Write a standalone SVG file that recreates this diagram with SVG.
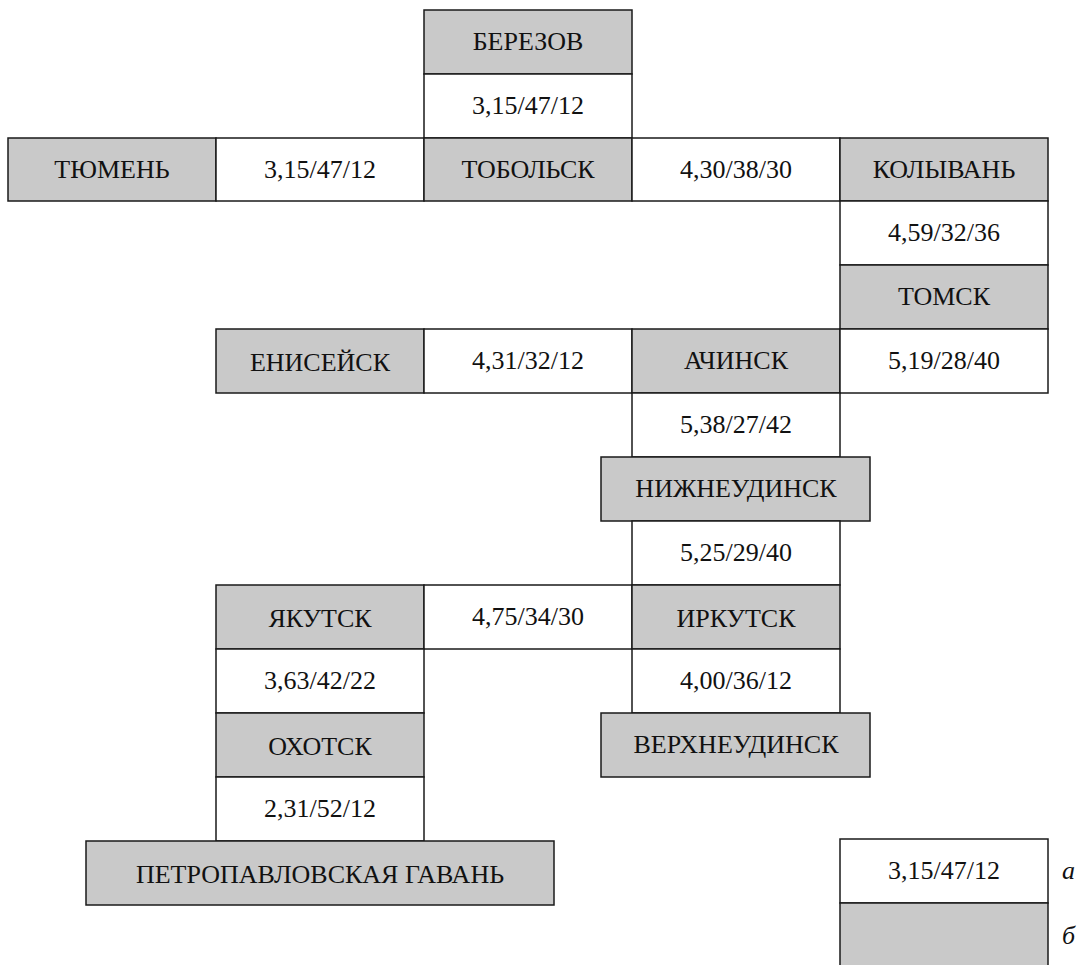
<svg xmlns="http://www.w3.org/2000/svg" width="1079" height="965" viewBox="0 0 1079 965">
<style>
.c rect{stroke:#1a1a1a;stroke-width:1.5}
.g rect{fill:#c9c9c9}
.w rect{fill:#ffffff}
.t{font-family:'Liberation Serif','Times New Roman',serif;font-size:26px;fill:#111;text-anchor:middle}
.it{font-family:'Liberation Serif','Times New Roman',serif;font-size:26px;fill:#111;font-style:italic}
</style>
<rect width="1079" height="965" fill="#ffffff"/>
<g id="connectors"></g>
<g id="berezov" class="c g"><rect x="424" y="10" width="208" height="64"/><text class="t" x="528" y="50">БЕРЕЗОВ</text></g>
<g id="v-berezov-tobolsk" class="c w"><rect x="424" y="74" width="208" height="64"/><text class="t" x="528" y="114">3,15/47/12</text></g>
<g id="tyumen" class="c g"><rect x="8" y="138" width="208" height="63"/><text class="t" x="112" y="178">ТЮМЕНЬ</text></g>
<g id="v-tyumen-tobolsk" class="c w"><rect x="216" y="138" width="208" height="63"/><text class="t" x="320" y="178">3,15/47/12</text></g>
<g id="tobolsk" class="c g"><rect x="424" y="138" width="208" height="63"/><text class="t" x="528" y="178">ТОБОЛЬСК</text></g>
<g id="v-tobolsk-kolyvan" class="c w"><rect x="632" y="138" width="208" height="63"/><text class="t" x="736" y="178">4,30/38/30</text></g>
<g id="kolyvan" class="c g"><rect x="840" y="138" width="208" height="63"/><text class="t" x="944" y="178">КОЛЫВАНЬ</text></g>
<g id="v-kolyvan-tomsk" class="c w"><rect x="840" y="201" width="208" height="64"/><text class="t" x="944" y="241">4,59/32/36</text></g>
<g id="tomsk" class="c g"><rect x="840" y="265" width="208" height="64"/><text class="t" x="944" y="305">ТОМСК</text></g>
<g id="yeniseisk" class="c g"><rect x="216" y="329" width="208" height="64"/><text class="t" x="320" y="371">ЕНИСЕЙСК</text></g>
<g id="v-yeniseisk-achinsk" class="c w"><rect x="424" y="329" width="208" height="64"/><text class="t" x="528" y="369">4,31/32/12</text></g>
<g id="achinsk" class="c g"><rect x="632" y="329" width="208" height="64"/><text class="t" x="736" y="369">АЧИНСК</text></g>
<g id="v-tomsk-achinsk" class="c w"><rect x="840" y="329" width="208" height="64"/><text class="t" x="944" y="369">5,19/28/40</text></g>
<g id="v-achinsk-nizhneudinsk" class="c w"><rect x="632" y="393" width="208" height="64"/><text class="t" x="736" y="433">5,38/27/42</text></g>
<g id="nizhneudinsk" class="c g"><rect x="601" y="457" width="269" height="64"/><text class="t" x="736" y="497">НИЖНЕУДИНСК</text></g>
<g id="v-nizhneudinsk-irkutsk" class="c w"><rect x="632" y="521" width="208" height="64"/><text class="t" x="736" y="561">5,25/29/40</text></g>
<g id="yakutsk" class="c g"><rect x="216" y="585" width="208" height="64"/><text class="t" x="320" y="627">ЯКУТСК</text></g>
<g id="v-yakutsk-irkutsk" class="c w"><rect x="424" y="585" width="208" height="64"/><text class="t" x="528" y="625">4,75/34/30</text></g>
<g id="irkutsk" class="c g"><rect x="632" y="585" width="208" height="64"/><text class="t" x="736" y="627">ИРКУТСК</text></g>
<g id="v-yakutsk-okhotsk" class="c w"><rect x="216" y="649" width="208" height="64"/><text class="t" x="320" y="689">3,63/42/22</text></g>
<g id="v-irkutsk-verkhneudinsk" class="c w"><rect x="632" y="649" width="208" height="64"/><text class="t" x="736" y="689">4,00/36/12</text></g>
<g id="okhotsk" class="c g"><rect x="216" y="713" width="208" height="64"/><text class="t" x="320" y="755">ОХОТСК</text></g>
<g id="verkhneudinsk" class="c g"><rect x="601" y="713" width="269" height="64"/><text class="t" x="736" y="753">ВЕРХНЕУДИНСК</text></g>
<g id="v-okhotsk-petropavlovsk" class="c w"><rect x="216" y="777" width="208" height="64"/><text class="t" x="320" y="817">2,31/52/12</text></g>
<g id="petropavlovsk" class="c g"><rect x="86" y="841" width="468" height="64"/><text class="t" x="320" y="883">ПЕТРОПАВЛОВСКАЯ ГАВАНЬ</text></g>
<g id="legend">
<g id="legend-a" class="c w"><rect x="840" y="839" width="208" height="64"/><text class="t" x="944" y="879">3,15/47/12</text></g>
<g id="legend-b" class="c g"><rect x="840" y="903" width="208" height="70"/></g>
<text class="it" x="1062" y="879">а</text>
<text class="it" x="1062" y="944">б</text>
</g>
</svg>
